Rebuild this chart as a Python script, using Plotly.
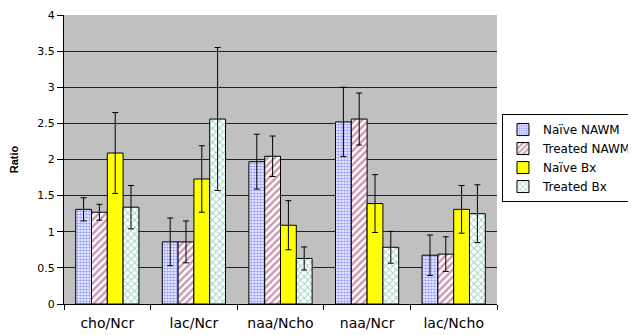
import plotly.graph_objects as go

categories = ["cho/Ncr", "lac/Ncr", "naa/Ncho", "naa/Ncr", "lac/Ncho"]
series_names = ["Naïve NAWM", "Treated NAWM", "Naïve Bx", "Treated Bx"]
naive_nawm = [1.31, 0.86, 1.97, 2.52, 0.675]
treated_nawm = [1.27, 0.86, 2.045, 2.56, 0.69]
naive_bx = [2.09, 1.73, 1.09, 1.39, 1.31]
treated_bx = [1.34, 2.56, 0.63, 0.785, 1.25]
err_naive_nawm = [0.16, 0.33, 0.38, 0.48, 0.28]
err_treated_nawm = [0.11, 0.29, 0.28, 0.36, 0.24]
err_naive_bx = [0.56, 0.46, 0.34, 0.40, 0.33]
err_treated_bx = [0.30, 0.99, 0.16, 0.22, 0.40]

values = [naive_nawm, treated_nawm, naive_bx, treated_bx]
errors = [err_naive_nawm, err_treated_nawm, err_naive_bx, err_treated_bx]
patterns = [
    dict(shape=".", fgcolor="#3344FF", bgcolor="white", size=3, solidity=0.6),
    dict(shape="/", fgcolor="#993366", bgcolor="white", size=5, solidity=0.5),
    dict(shape="", bgcolor="#FFFF00"),
    dict(shape="x", fgcolor="#33AA77", bgcolor="white", size=5, solidity=0.35),
]
colors = ["white", "white", "#FFFF00", "white"]

FONT = "DejaVu Sans, Liberation Sans, Arial"

fig = go.Figure()
for name, v, e, p, c in zip(series_names, values, errors, patterns, colors):
    fig.add_trace(go.Bar(
        name=name, x=categories, y=v,
        marker=dict(color=c, pattern=p, line=dict(color="black", width=1)),
        error_y=dict(type="data", array=e, visible=True, color="black", thickness=1, width=3),
    ))

# page body has an 8px default margin, so the figure is sized to the remaining view
fig.update_layout(
    width=628, height=327,
    margin=dict(l=56, r=139, t=7, b=31, autoexpand=False),
    paper_bgcolor="white", plot_bgcolor="#C0C0C0",
    barmode="group", bargap=0.27, bargroupgap=0,
    font=dict(family=FONT, size=12, color="black"),
    legend=dict(x=1.0115, y=0.505, xanchor="left", yanchor="middle",
                bordercolor="black", borderwidth=1, bgcolor="white",
                font=dict(size=12, family=FONT), tracegroupgap=0),
    showlegend=True,
)
fig.update_yaxes(range=[0, 4], dtick=0.5, showgrid=True, gridcolor="#222222", gridwidth=1,
                 showline=True, linecolor="black", ticks="outside", ticklen=6,
                 tickcolor="black", zeroline=False, tickfont=dict(size=11, family=FONT),
                 ticklabeloverflow="allow",
                 title=dict(text="<b>Ratio</b>", font=dict(size=11, family="Liberation Sans, Arial"),
                            standoff=16))
fig.update_xaxes(showline=True, linecolor="black", ticks="outside", ticklen=5,
                 tickcolor="black", tickson="boundaries", showgrid=False,
                 tickfont=dict(size=14, family=FONT), ticklabelstandoff=6)

fig.write_html("out.html")
